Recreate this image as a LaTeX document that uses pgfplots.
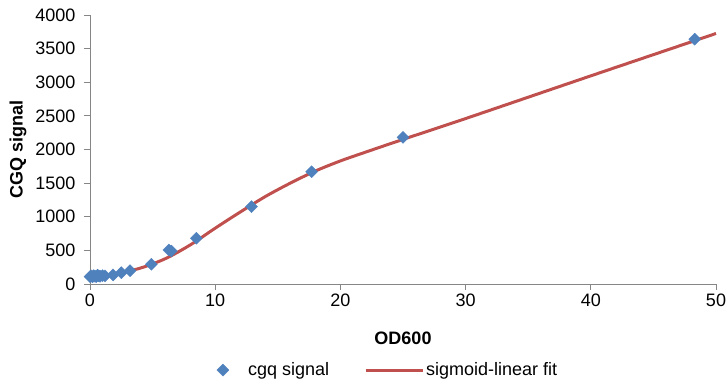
\documentclass[border=0pt]{standalone}
\usepackage{pgfplots}
\pgfplotsset{compat=1.18}
\usepackage{fontspec}
\setmainfont{Liberation Sans}
\definecolor{exblue}{HTML}{4F81BD}
\definecolor{exred}{HTML}{C0504D}
\definecolor{axgray}{HTML}{868686}
\pgfplotsset{
  longline/.style={legend image code/.code={\draw[##1] (0pt,0pt) -- (57pt,0pt);}},
  markimg/.style={legend image code/.code={\path (-6pt,0pt) (23pt,0pt); \draw[##1] plot coordinates {(0pt,0pt)};}}
}
\begin{document}
\begin{tikzpicture}[font=\fontsize{18}{21}\selectfont]
\begin{axis}[
  name=ax,
  scale only axis,
  width=626pt, height=269pt,
  xmin=0, xmax=50, ymin=0, ymax=4000,
  xtick={0,10,20,30,40,50},
  ytick={0,500,1000,1500,2000,2500,3000,3500,4000},
  axis x line*=bottom, axis y line*=left,
  axis line style={axgray, line width=0.8pt, -},
  tick style={axgray, line width=0.8pt},
  tick align=outside,
  major tick length=6pt,
  minor tick num=0,
  /pgf/number format/assume math mode=true,
  /pgf/number format/1000 sep={},
  tick label style={font=\fontsize{18}{21}\selectfont},
  yticklabel style={xshift=-5pt},
  xlabel={\textbf{OD600}},
  ylabel={\textbf{CGQ signal}},
  label style={font=\fontsize{18}{21}\selectfont},
  xlabel style={at={(0.5,-0.203)}, anchor=center},
  ylabel style={at={(-0.115,0.5)}, anchor=center},
  legend style={draw=none, at={(0.476,-0.32)}, anchor=center, legend columns=2,
    font=\fontsize{18}{21}\selectfont,
    /tikz/every even column/.append style={column sep=33pt}},
  legend cell align=left,
  clip=false,
]
\addplot[only marks, mark=diamond*, mark size=6pt, color=exblue, mark options={fill=exblue, draw=exblue, xscale=1.33}, markimg]
coordinates {
(0,110) (0.1,120) (0.2,105) (0.3,125) (0.4,115) (0.5,110) (0.6,130) (0.7,120) (0.8,115) (1.0,125) (1.2,120)
(1.84,134) (2.5,168) (3.2,198) (4.9,293) (6.3,505) (6.5,490) (8.5,680)
(12.9,1150) (17.7,1670) (25.0,2180) (48.3,3640)
};
\addlegendentry{cgq signal}
\addplot[exred, line width=3pt, smooth, no marks, longline]
coordinates {
(0,100) (2,150) (4,235) (6,375) (8,580) (10,830) (12,1070) (14,1300) (16,1500) (18,1680) (20,1830) (22,1960) (25,2150) (30,2460) (40,3095) (50,3725)
};
\addlegendentry{sigmoid-linear fit}
\end{axis}
\pgfresetboundingbox
\path ([shift={(-90pt,-96pt)}]ax.south west) rectangle ([shift={(12pt,15pt)}]ax.north east);
\end{tikzpicture}
\end{document}
